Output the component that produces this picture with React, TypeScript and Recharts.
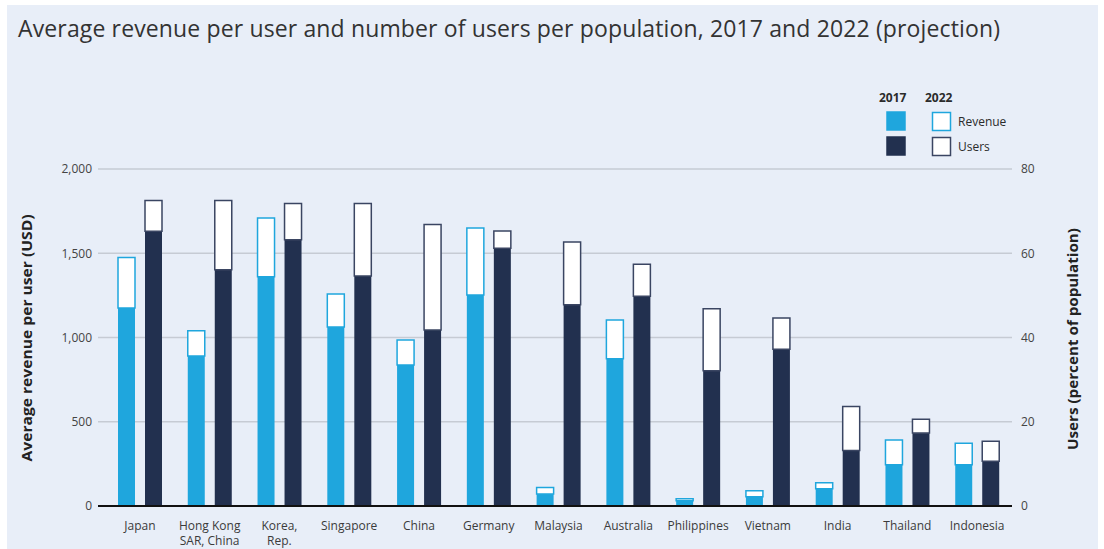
import React from "react";
import {
  BarChart,
  Bar,
  XAxis,
  YAxis,
  CartesianGrid,
} from "recharts";

const countries = [
  "Japan",
  "Hong Kong|SAR, China",
  "Korea,|Rep.",
  "Singapore",
  "China",
  "Germany",
  "Malaysia",
  "Australia",
  "Philippines",
  "Vietnam",
  "India",
  "Thailand",
  "Indonesia",
];

// average revenue per user, USD
const revenue2017 = [1175, 890, 1360, 1062, 837, 1252, 71, 874, 31, 55, 103, 245, 245];
const revenue2022 = [1475, 1040, 1709, 1258, 985, 1650, 110, 1104, 43, 91, 138, 392, 372];

// users, percent of population
const users2017 = [65.2, 56.1, 63.2, 54.6, 41.8, 61.2, 47.8, 49.8, 32.1, 37.2, 13.2, 17.3, 10.6];
const users2022 = [72.5, 72.5, 71.8, 71.8, 66.8, 65.3, 62.7, 57.4, 46.8, 44.6, 23.6, 20.6, 15.4];

const revTicks = [0, 500, 1000, 1500, 2000];
const userTicks = [0, 20, 40, 60, 80];

const LIGHT = "#1FA6DD";
const NAVY = "#22304F";
const FONT = '"Open Sans", "Noto Sans", sans-serif';

const chartData = countries.map((c, i) => ({
  country: c,
  rev17: revenue2017[i],
  revAdd: revenue2022[i] - revenue2017[i],
  users17: users2017[i],
  usersAdd: users2022[i] - users2017[i],
}));

function CountryTick(props: any) {
  const { x, y, payload } = props;
  const lines = String(payload.value).split("|");
  return (
    <g>
      {lines.map((l, i) => (
        <text
          key={i}
          x={x}
          y={y + 22 + i * 15}
          textAnchor="middle"
          fill="#3b3b3b"
          fontSize={12}
          fontFamily={FONT}
        >
          {l}
        </text>
      ))}
    </g>
  );
}

// title, axis titles and legend drawn on top of the chart
function Overlay() {
  const box = (fill: string, stroke: string, x: number, y: number) => (
    <rect x={x} y={y} width={18} height={18} fill={fill} stroke={stroke} strokeWidth={1.5} />
  );
  return (
    <svg
      width={1104}
      height={549}
      style={{ position: "absolute", left: 0, top: 0, pointerEvents: "none" }}
      fontFamily={FONT}
    >
      <text x={18} y={36.5} fontSize={23} fill="#333" textLength={982} lengthAdjust="spacing">
        Average revenue per user and number of users per population, 2017 and 2022 (projection)
      </text>
      <text
        transform="translate(32 338) rotate(-90)"
        textAnchor="middle"
        fontSize={13.5}
        fontWeight={700}
        fill="#222"
        textLength={247}
        lengthAdjust="spacingAndGlyphs"
      >
        Average revenue per user (USD)
      </text>
      <text
        transform="translate(1078 339) rotate(-90)"
        textAnchor="middle"
        fontSize={13.5}
        fontWeight={700}
        fill="#222"
        textLength={222}
        lengthAdjust="spacingAndGlyphs"
      >
        Users (percent of population)
      </text>

      <text x={879} y={102} fontSize={12} fontWeight={700} fill="#2b2b2b">2017</text>
      <text x={925} y={102} fontSize={12} fontWeight={700} fill="#2b2b2b">2022</text>
      {box(LIGHT, LIGHT, 887, 112)}
      {box(NAVY, NAVY, 887, 137)}
      {box("#fff", LIGHT, 932.5, 112.5)}
      {box("#fff", "#3A4562", 932.5, 137.5)}
      <text x={958} y={126} fontSize={12} fill="#2b2b2b">Revenue</text>
      <text x={958} y={151} fontSize={12} fill="#2b2b2b">Users</text>
    </svg>
  );
}

export default function App() {
  return (
    <div
      style={{
        position: "absolute",
        left: 0,
        top: 0,
        width: 1104,
        height: 549,
        background: "#ffffff",
        fontFamily: FONT,
        overflow: "hidden",
      }}
    >
      <div
        style={{
          position: "absolute",
          left: 7,
          top: 5,
          width: 1091,
          height: 544,
          background: "#E8EEF8",
        }}
      />
      <div style={{ position: "absolute", left: 0, top: 0 }}>
        <BarChart
          width={1104}
          height={549}
          data={chartData}
          margin={{ top: 169, right: 42, bottom: 0, left: 38 }}
          barSize={17}
          barGap={10}
        >
          <CartesianGrid vertical={false} stroke="#C6CBD4" strokeWidth={1.5} yAxisId="rev" />
          <XAxis
            dataKey="country"
            interval={0}
            tickLine={false}
            tickSize={0}
            height={43}
            padding={{ left: 7, right: 0 }}
            axisLine={{ stroke: "#111", strokeWidth: 2 }}
            tick={<CountryTick />}
          />
          <YAxis
            yAxisId="rev"
            orientation="left"
            width={60}
            domain={[0, 2000]}
            ticks={revTicks}
            tickFormatter={(v: number) => v.toLocaleString("en-US")}
            axisLine={false}
            tickLine={false}
            tickSize={0}
            tickMargin={6}
            tick={{ fill: "#444", fontSize: 12, fontFamily: FONT }}
          />
          <YAxis
            yAxisId="users"
            orientation="right"
            width={50}
            domain={[0, 80]}
            ticks={userTicks}
            axisLine={false}
            tickLine={false}
            tickSize={0}
            tickMargin={9}
            tick={{ fill: "#444", fontSize: 12, fontFamily: FONT, textAnchor: "start" }}
          />
          <Bar yAxisId="rev" dataKey="rev17" stackId="rev" fill={LIGHT} isAnimationActive={false} />
          <Bar
            yAxisId="rev"
            dataKey="revAdd"
            stackId="rev"
            fill="#ffffff"
            stroke={LIGHT}
            strokeWidth={1.5}
            isAnimationActive={false}
          />
          <Bar yAxisId="users" dataKey="users17" stackId="users" fill={NAVY} isAnimationActive={false} />
          <Bar
            yAxisId="users"
            dataKey="usersAdd"
            stackId="users"
            fill="#ffffff"
            stroke="#3A4562"
            strokeWidth={1.5}
            isAnimationActive={false}
          />
        </BarChart>
      </div>
      <Overlay />
    </div>
  );
}
